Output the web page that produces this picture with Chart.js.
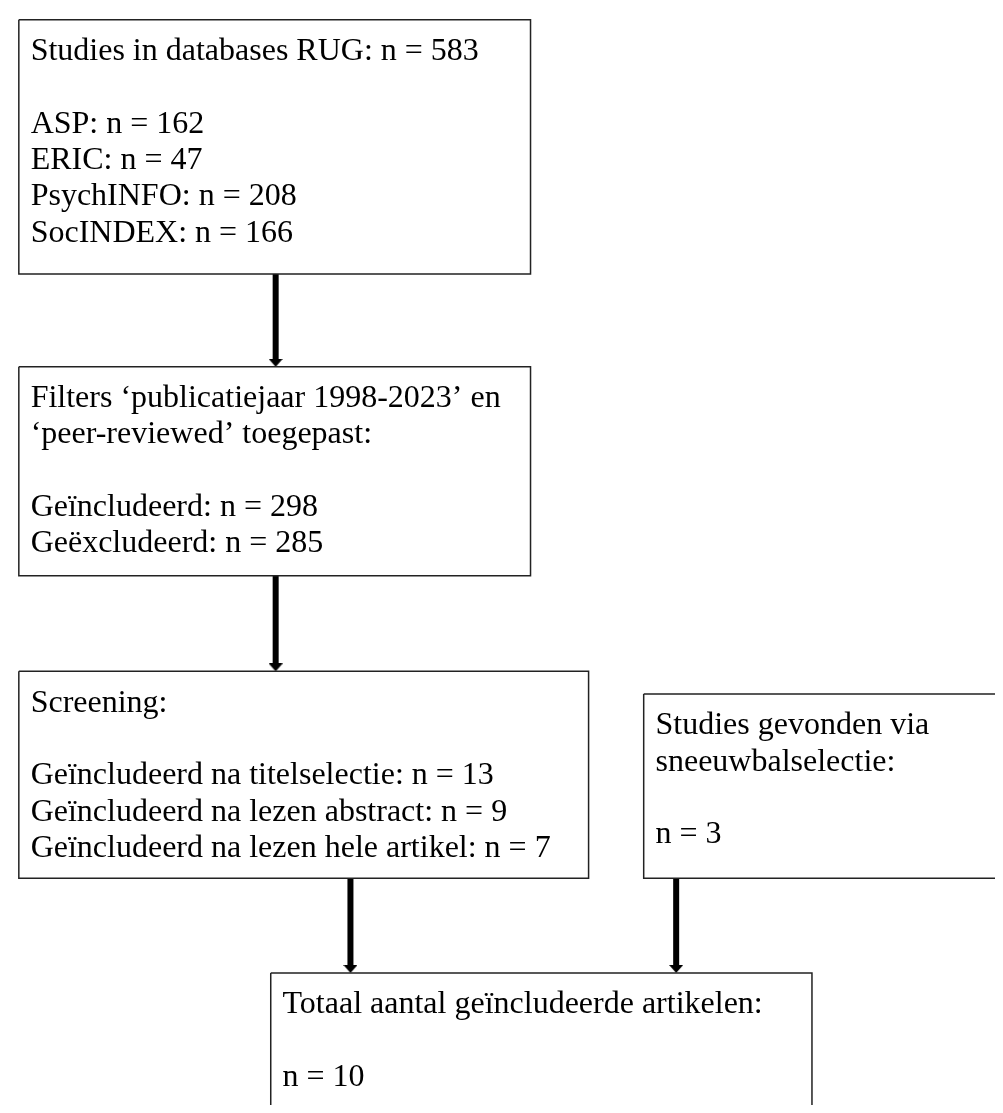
<!DOCTYPE html>
<html>
<head>
<meta charset="utf-8">
<title>Flowchart literatuurselectie</title>
<script src="https://cdn.jsdelivr.net/npm/chart.js@4.4.1/dist/chart.umd.min.js"></script>
<style>
  html, body { margin: 0; padding: 0; background: #fff; }
  #wrap { width: 1003px; height: 1113px; position: relative; }
</style>
</head>
<body>
<div id="wrap"><canvas id="flow"></canvas></div>
<script>
const totalFound = 583;
const dbNames = ['ASP', 'ERIC', 'PsychINFO', 'SocINDEX'];
const dbCounts = [162, 47, 208, 166];
const filterLabels = ['Geïncludeerd', 'Geëxcludeerd'];
const filterCounts = [298, 285];
const screenSteps = ['titelselectie', 'lezen abstract', 'lezen hele artikel'];
const screenCounts = [13, 9, 7];
const snowballCount = 3;
const totalIncluded = 10;

// --- layout (diagram units = pixels of the 1003 x 1113 page) ---
const W = 1003, H = 1113;
const FIRST = 41;       // first baseline below box top
const PAD = 12;         // text inset from box left
const PITCH = 36.8;     // line height of the box text
// box: left, right, top, bottom
const boxes = [
    { x0: 11, x1: 531, y0: 12, y1: 270 },
    { x0: 11, x1: 531, y0: 364, y1: 576 },
    { x0: 11, x1: 590, y0: 673, y1: 883 },
    { x0: 646, x1: 1012, y0: 696, y1: 883 },
    { x0: 267, x1: 817, y0: 979, y1: 1125 }
];
// arrows: x, from, to
const arrows = [
    { x: 272, y0: 270, y1: 364 },
    { x: 272, y0: 576, y1: 673 },
    { x: 348, y0: 883, y1: 979 },
    { x: 679, y0: 883, y1: 979 }
];

// text of each box ('' = empty line)
const boxText = [
    ['Studies in databases RUG: n = ' + totalFound, '']
        .concat(dbNames.map((d, i) => d + ': n = ' + dbCounts[i])),
    ['Filters \u2018publicatiejaar 1998-2023\u2019 en', '\u2018peer-reviewed\u2019 toegepast:', '']
        .concat(filterLabels.map((l, i) => l + ': n = ' + filterCounts[i])),
    ['Screening:', '']
        .concat(screenSteps.map((s, i) => 'Geïncludeerd na ' + s + ': n = ' + screenCounts[i])),
    ['Studies gevonden via', 'sneeuwbalselectie:', '', 'n = ' + snowballCount],
    ['Totaal aantal geïncludeerde artikelen:', '', 'n = ' + totalIncluded]
];

// flat arrow head used as point style
const HEAD_W = 14, HEAD_H = 8;
const head = document.createElement('canvas');
head.width = HEAD_W;
head.height = HEAD_H;
const hctx = head.getContext('2d');
hctx.fillStyle = '#000';
hctx.beginPath();
hctx.moveTo(0, 0);
hctx.lineTo(HEAD_W, 0);
hctx.lineTo(HEAD_W / 2, HEAD_H);
hctx.closePath();
hctx.fill();

const boxSets = boxes.map(b => ({
    type: 'line',
    data: [
        { x: b.x0, y: b.y0 }, { x: b.x1, y: b.y0 },
        { x: b.x1, y: b.y1 }, { x: b.x0, y: b.y1 }, { x: b.x0, y: b.y0 }
    ],
    borderColor: '#222',
    borderWidth: 1.5,
    pointRadius: 0,
    tension: 0
}));

const shaftSets = arrows.map(a => ({
    type: 'line',
    data: [{ x: a.x, y: a.y0 }, { x: a.x, y: a.y1 - HEAD_H + 1 }],
    borderColor: '#000',
    borderWidth: 6,
    borderCapStyle: 'butt',
    pointRadius: 0
}));

const headSet = {
    type: 'scatter',
    data: arrows.map(a => ({ x: a.x, y: a.y1 - HEAD_H / 2 })),
    pointStyle: head,
    pointRadius: HEAD_W / 2
};

const boxTextPlugin = {
    id: 'boxText',
    afterDatasetsDraw(chart) {
        const { ctx, scales: { x, y } } = chart;
        ctx.save();
        ctx.font = '32px "Liberation Serif", "Times New Roman", serif';
        ctx.fillStyle = '#000';
        ctx.textBaseline = 'alphabetic';
        ctx.textAlign = 'left';
        boxText.forEach((lines, i) => {
            const b = boxes[i];
            lines.forEach((t, j) => {
                if (!t) return;
                ctx.fillText(t, x.getPixelForValue(b.x0 + PAD), y.getPixelForValue(b.y0 + FIRST + j * PITCH));
            });
        });
        ctx.restore();
    }
};

new Chart(document.getElementById('flow'), {
    type: 'scatter',
    data: { datasets: boxSets.concat(shaftSets, [headSet]) },
    options: {
        responsive: true,
        maintainAspectRatio: false,
        animation: false,
        layout: { padding: 0 },
        plugins: { legend: { display: false }, tooltip: { enabled: false } },
        scales: {
            x: { type: 'linear', min: 0, max: W, display: false },
            y: { type: 'linear', min: 0, max: H, reverse: true, display: false }
        }
    },
    plugins: [boxTextPlugin]
});
</script>
</body>
</html>
